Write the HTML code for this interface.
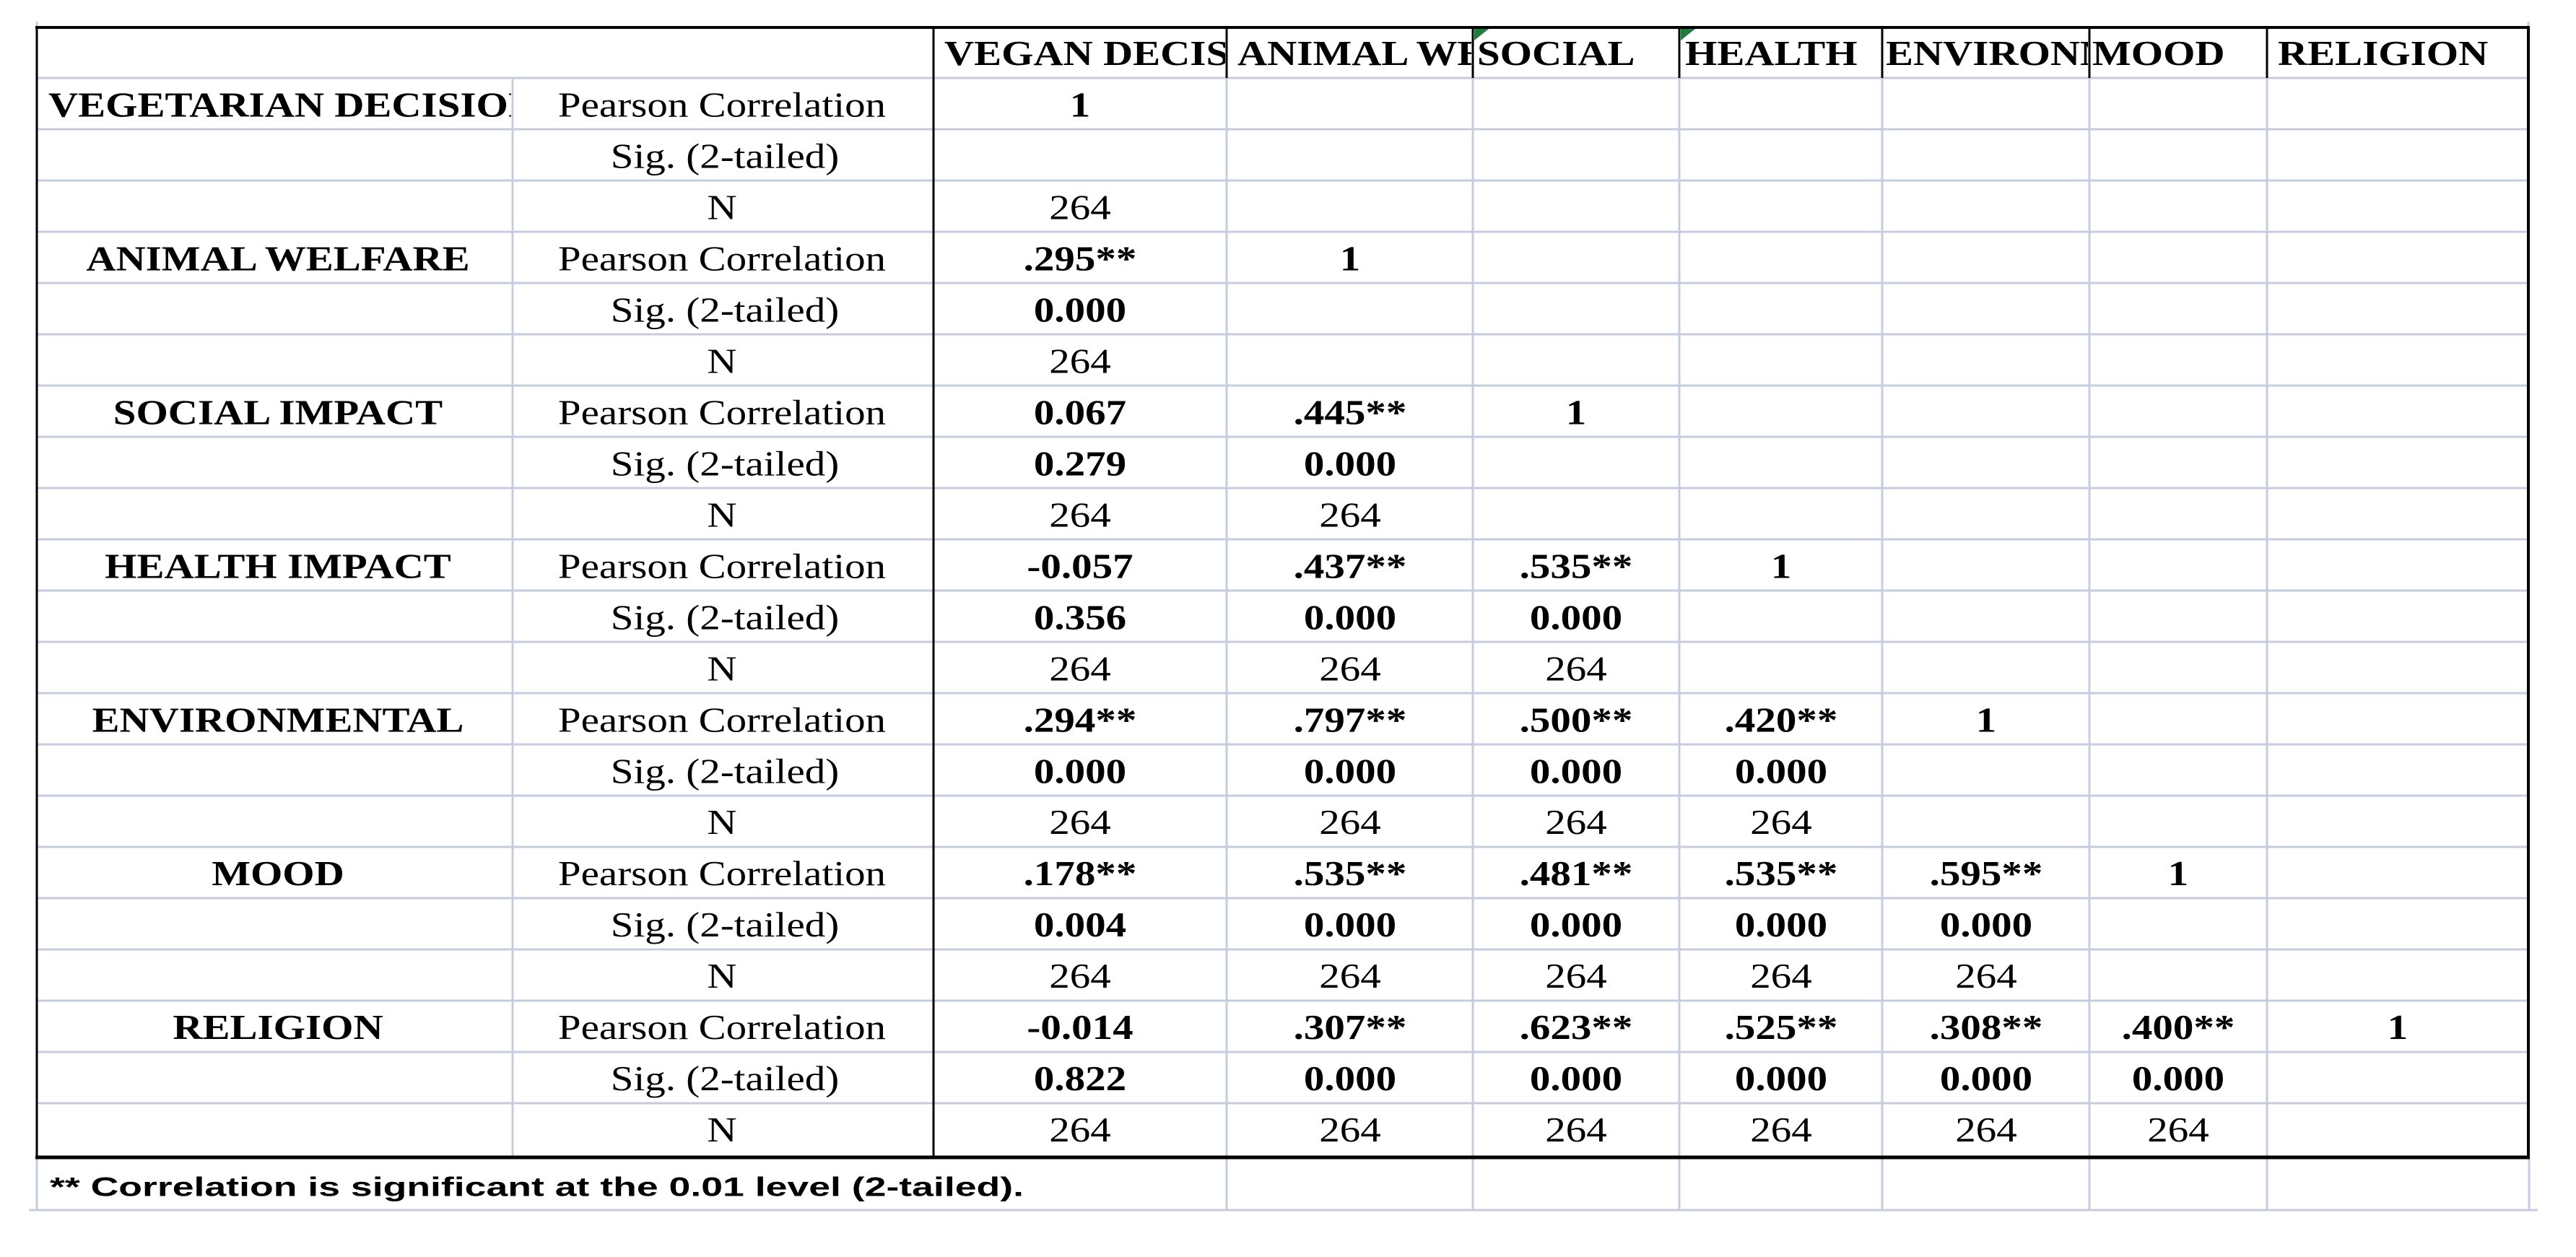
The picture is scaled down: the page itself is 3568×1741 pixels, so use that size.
<!DOCTYPE html>
<html><head><meta charset="utf-8"><style>
html,body{margin:0;padding:0;background:#fff;}
svg{display:block;}
text{font-family:"Liberation Serif",serif;font-size:57px;fill:#000;transform-box:fill-box;transform-origin:center;transform:scaleY(0.85);}
.b{font-weight:bold;}
.m{text-anchor:middle;}
.f{font-family:"Liberation Sans",sans-serif;font-weight:bold;font-size:44px;}
</style></head><body>
<svg width="3568" height="1741" viewBox="0 0 3568 1741" xmlns="http://www.w3.org/2000/svg">
<rect width="3568" height="1741" fill="#fff"/>
<defs>
<clipPath id="c0"><rect x="1295" y="30" width="402" height="78"/></clipPath>
<clipPath id="c1"><rect x="1701" y="30" width="337" height="78"/></clipPath>
<clipPath id="c2"><rect x="2042" y="30" width="282" height="78"/></clipPath>
<clipPath id="c3"><rect x="2328" y="30" width="277" height="78"/></clipPath>
<clipPath id="c4"><rect x="2609" y="30" width="283" height="78"/></clipPath>
<clipPath id="c5"><rect x="2896" y="30" width="242" height="78"/></clipPath>
<clipPath id="c6"><rect x="3142" y="30" width="358" height="78"/></clipPath>
<clipPath id="cv"><rect x="53" y="100" width="655" height="79"/></clipPath>
</defs>
<g stroke="#c6cce0" stroke-width="3">
<line x1="51" y1="108" x2="3502" y2="108"/>
<line x1="51" y1="179" x2="3502" y2="179"/><line x1="51" y1="250" x2="3502" y2="250"/><line x1="51" y1="321" x2="3502" y2="321"/>
<line x1="51" y1="392" x2="3502" y2="392"/><line x1="51" y1="463" x2="3502" y2="463"/><line x1="51" y1="534" x2="3502" y2="534"/>
<line x1="51" y1="605" x2="3502" y2="605"/><line x1="51" y1="676" x2="3502" y2="676"/><line x1="51" y1="747" x2="3502" y2="747"/>
<line x1="51" y1="818" x2="3502" y2="818"/><line x1="51" y1="889" x2="3502" y2="889"/><line x1="51" y1="960" x2="3502" y2="960"/>
<line x1="51" y1="1031" x2="3502" y2="1031"/><line x1="51" y1="1102" x2="3502" y2="1102"/><line x1="51" y1="1173" x2="3502" y2="1173"/>
<line x1="51" y1="1244" x2="3502" y2="1244"/><line x1="51" y1="1315" x2="3502" y2="1315"/><line x1="51" y1="1386" x2="3502" y2="1386"/>
<line x1="51" y1="1457" x2="3502" y2="1457"/><line x1="51" y1="1528" x2="3502" y2="1528"/>
<line x1="40" y1="1676" x2="3515" y2="1676"/>
<line x1="710" y1="108" x2="710" y2="1603"/>
<line x1="1699" y1="108" x2="1699" y2="1676"/><line x1="2040" y1="108" x2="2040" y2="1676"/>
<line x1="2326" y1="108" x2="2326" y2="1676"/><line x1="2607" y1="108" x2="2607" y2="1676"/>
<line x1="2894" y1="108" x2="2894" y2="1676"/><line x1="3140" y1="108" x2="3140" y2="1676"/>
<line x1="51" y1="1603" x2="51" y2="1676"/><line x1="3503" y1="1603" x2="3503" y2="1676"/>
<line x1="51" y1="30" x2="51" y2="40"/><line x1="3502" y1="30" x2="3502" y2="40"/>
</g>
<g stroke="#000">
<line x1="49" y1="38" x2="3504" y2="38" stroke-width="4"/>
<line x1="51" y1="37" x2="51" y2="1603" stroke-width="3"/>
<line x1="3502" y1="37" x2="3502" y2="1603" stroke-width="4"/>
<line x1="1293" y1="37" x2="1293" y2="1603" stroke-width="3"/>
<line x1="49" y1="1603" x2="3504" y2="1603" stroke-width="5"/>
<line x1="1699" y1="37" x2="1699" y2="108" stroke-width="3"/><line x1="2040" y1="37" x2="2040" y2="108" stroke-width="3"/>
<line x1="2326" y1="37" x2="2326" y2="108" stroke-width="3"/><line x1="2607" y1="37" x2="2607" y2="108" stroke-width="3"/>
<line x1="2894" y1="37" x2="2894" y2="108" stroke-width="3"/><line x1="3140" y1="37" x2="3140" y2="108" stroke-width="3"/>
</g>
<polygon points="2042,40 2062,40 2042,56" fill="#1e7e3e"/>
<polygon points="2328,40 2348,40 2328,56" fill="#1e7e3e"/>
<g class="b">
<text x="1308" y="93" clip-path="url(#c0)">VEGAN DECISION</text>
<text x="1714" y="93" clip-path="url(#c1)">ANIMAL WELFARE</text>
<text x="2046" y="93" clip-path="url(#c2)">SOCIAL</text>
<text x="2334" y="93" clip-path="url(#c3)">HEALTH</text>
<text x="2612" y="93" clip-path="url(#c4)">ENVIRONMENTAL</text>
<text x="2898" y="93" clip-path="url(#c5)">MOOD</text>
<text x="3155" y="93" clip-path="url(#c6)">RELIGION</text>
</g>
<g transform="translate(0,4)">
<g class="b">
<text x="67" y="160" clip-path="url(#cv)">VEGETARIAN DECISION</text>
<text x="385" y="373" class="b m">ANIMAL WELFARE</text>
<text x="385" y="586" class="b m">SOCIAL IMPACT</text>
<text x="385" y="799" class="b m">HEALTH IMPACT</text>
<text x="385" y="1012" class="b m">ENVIRONMENTAL</text>
<text x="385" y="1225" class="b m">MOOD</text>
<text x="385" y="1438" class="b m">RELIGION</text>
</g>
<g class="m">
<text x="1000" y="160">Pearson Correlation</text><text x="1004" y="231">Sig. (2-tailed)</text><text x="1000" y="302">N</text>
<text x="1000" y="373">Pearson Correlation</text><text x="1004" y="444">Sig. (2-tailed)</text><text x="1000" y="515">N</text>
<text x="1000" y="586">Pearson Correlation</text><text x="1004" y="657">Sig. (2-tailed)</text><text x="1000" y="728">N</text>
<text x="1000" y="799">Pearson Correlation</text><text x="1004" y="870">Sig. (2-tailed)</text><text x="1000" y="941">N</text>
<text x="1000" y="1012">Pearson Correlation</text><text x="1004" y="1083">Sig. (2-tailed)</text><text x="1000" y="1154">N</text>
<text x="1000" y="1225">Pearson Correlation</text><text x="1004" y="1296">Sig. (2-tailed)</text><text x="1000" y="1367">N</text>
<text x="1000" y="1438">Pearson Correlation</text><text x="1004" y="1509">Sig. (2-tailed)</text><text x="1000" y="1580">N</text>
</g>
<g class="m">
<text class="b" x="1496" y="160">1</text><text x="1496" y="302">264</text>

<text class="b" x="1496" y="373">.295**</text><text class="b" x="1870" y="373">1</text>
<text class="b" x="1496" y="444">0.000</text>
<text x="1496" y="515">264</text>

<text class="b" x="1496" y="586">0.067</text><text class="b" x="1870" y="586">.445**</text><text class="b" x="2183" y="586">1</text>
<text class="b" x="1496" y="657">0.279</text><text class="b" x="1870" y="657">0.000</text>
<text x="1496" y="728">264</text><text x="1870" y="728">264</text>

<text class="b" x="1496" y="799">-0.057</text><text class="b" x="1870" y="799">.437**</text><text class="b" x="2183" y="799">.535**</text><text class="b" x="2467" y="799">1</text>
<text class="b" x="1496" y="870">0.356</text><text class="b" x="1870" y="870">0.000</text><text class="b" x="2183" y="870">0.000</text>
<text x="1496" y="941">264</text><text x="1870" y="941">264</text><text x="2183" y="941">264</text>

<text class="b" x="1496" y="1012">.294**</text><text class="b" x="1870" y="1012">.797**</text><text class="b" x="2183" y="1012">.500**</text><text class="b" x="2467" y="1012">.420**</text><text class="b" x="2751" y="1012">1</text>
<text class="b" x="1496" y="1083">0.000</text><text class="b" x="1870" y="1083">0.000</text><text class="b" x="2183" y="1083">0.000</text><text class="b" x="2467" y="1083">0.000</text>
<text x="1496" y="1154">264</text><text x="1870" y="1154">264</text><text x="2183" y="1154">264</text><text x="2467" y="1154">264</text>

<text class="b" x="1496" y="1225">.178**</text><text class="b" x="1870" y="1225">.535**</text><text class="b" x="2183" y="1225">.481**</text><text class="b" x="2467" y="1225">.535**</text><text class="b" x="2751" y="1225">.595**</text><text class="b" x="3017" y="1225">1</text>
<text class="b" x="1496" y="1296">0.004</text><text class="b" x="1870" y="1296">0.000</text><text class="b" x="2183" y="1296">0.000</text><text class="b" x="2467" y="1296">0.000</text><text class="b" x="2751" y="1296">0.000</text>
<text x="1496" y="1367">264</text><text x="1870" y="1367">264</text><text x="2183" y="1367">264</text><text x="2467" y="1367">264</text><text x="2751" y="1367">264</text>

<text class="b" x="1496" y="1438">-0.014</text><text class="b" x="1870" y="1438">.307**</text><text class="b" x="2183" y="1438">.623**</text><text class="b" x="2467" y="1438">.525**</text><text class="b" x="2751" y="1438">.308**</text><text class="b" x="3017" y="1438">.400**</text><text class="b" x="3321" y="1438">1</text>
<text class="b" x="1496" y="1509">0.822</text><text class="b" x="1870" y="1509">0.000</text><text class="b" x="2183" y="1509">0.000</text><text class="b" x="2467" y="1509">0.000</text><text class="b" x="2751" y="1509">0.000</text><text class="b" x="3017" y="1509">0.000</text>
<text x="1496" y="1580">264</text><text x="1870" y="1580">264</text><text x="2183" y="1580">264</text><text x="2467" y="1580">264</text><text x="2751" y="1580">264</text><text x="3017" y="1580">264</text>
</g>
<text class="f" x="69" y="1655" textLength="1349" lengthAdjust="spacingAndGlyphs">** Correlation is significant at the 0.01 level (2-tailed).</text>
</g>
</svg>
</body></html>
